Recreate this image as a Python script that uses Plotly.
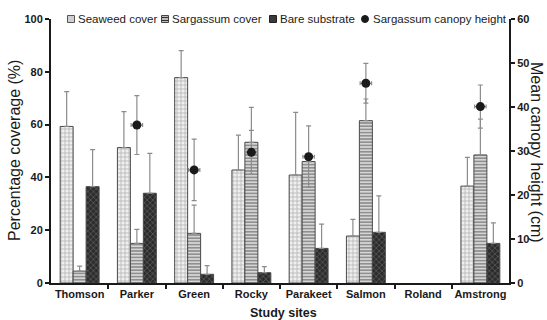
import plotly.graph_objects as go

sites = ["Thomson", "Parker", "Green", "Rocky", "Parakeet", "Salmon", "Roland", "Amstrong"]

seaweed = [59.3, 51.3, 77.8, 42.8, 40.9, 17.8, None, 36.7]
seaweed_err = [13.2, 13.6, 10.2, 13.2, 23.7, 6.3, None, 10.9]

sargassum = [4.5, 15.0, 18.8, 53.3, 46.0, 61.5, None, 48.5]
sargassum_err = [1.9, 5.3, 10.7, 13.2, 3.0, 8.2, None, 13.6]

bare = [36.5, 34.0, 3.3, 3.9, 13.1, 19.2, None, 15.0]
bare_err = [14.0, 15.1, 3.3, 2.3, 9.2, 13.8, None, 7.8]

canopy = [None, 35.9, 25.7, 29.7, 28.7, 45.4, None, 40.1]
canopy_err = [None, 6.7, 7.0, 5.0, 7.0, 4.5, None, 4.9]

legend_labels = ["Seaweed cover", "Sargassum cover", "Bare substrate",
                 "Sargassum canopy height"]

FONT = "Liberation Sans, Arial, sans-serif"
INK = "#1a1a1a"
OUTLINE = dict(color="#4a4a4a", width=1)

W, H = 547, 320
ML, MR, MT, MB = 51, 38, 19, 37
PW, PH = W - ML - MR, H - MT - MB

xpos = list(range(len(sites)))


def px(x, y):
    """Pixel position in the page -> paper coordinates."""
    return (x - ML) / PW, (H - MB - y) / PH


def upper_err(vals):
    return dict(type="data", array=vals, arrayminus=[0] * len(vals),
                symmetric=False, color="#8c8c8c", thickness=1.2, width=2.5)


SEAWEED_MARK = dict(color="#d0d0d0", line=OUTLINE,
                    pattern=dict(shape="+", fgcolor="#777777", bgcolor="#efefef",
                                 size=4, solidity=0.35))
SARG_MARK = dict(color="#bdbdbd", line=OUTLINE,
                 pattern=dict(shape="-", fgcolor="#3a3a3a", bgcolor="#d6d6d6",
                              size=3.2, solidity=0.45))
BARE_MARK = dict(color="#3c3c3c", line=OUTLINE,
                 pattern=dict(shape="x", fgcolor="#9a9a9a", bgcolor="#2c2c2c",
                              size=4, solidity=0.3))

fig = go.Figure()
fig.add_trace(go.Bar(name=legend_labels[0], x=xpos, y=seaweed,
                     error_y=upper_err(seaweed_err), marker=SEAWEED_MARK))
fig.add_trace(go.Bar(name=legend_labels[1], x=xpos, y=sargassum,
                     error_y=upper_err(sargassum_err), marker=SARG_MARK))
fig.add_trace(go.Bar(name=legend_labels[2], x=xpos, y=bare,
                     error_y=upper_err(bare_err), marker=BARE_MARK))
fig.add_trace(go.Scatter(
    name=legend_labels[3], x=xpos, y=canopy, yaxis="y2",
    mode="markers", marker=dict(color=INK, size=9),
    error_y=dict(type="data", array=canopy_err, color="#8c8c8c",
                 thickness=1.2, width=2.5),
    error_x=dict(type="constant", value=0.1, color="#8c8c8c",
                 thickness=1.2, width=2),
))

tick_font = dict(family=FONT, size=11, color=INK, weight="bold")
axis_common = dict(showline=True, linecolor=INK, linewidth=2, ticks="outside",
                   ticklen=4, tickwidth=1.5, tickcolor=INK, tickfont=tick_font,
                   showgrid=False, zeroline=False, automargin=False)

# hand-built legend row across the top of the plot
shapes = []
annotations = []
sym_x = [71, 165, 273, 365]
txt_x = [76, 170, 278, 371]
leg_y = 19
s = 3.5
for i, (cx, tx, label) in enumerate(zip(sym_x, txt_x, legend_labels)):
    x0, y0 = px(cx - s, leg_y + s)
    x1, y1 = px(cx + s, leg_y - s)
    if i == 0:
        shapes.append(dict(type="rect", xref="paper", yref="paper", x0=x0, x1=x1,
                           y0=y0, y1=y1, fillcolor="#cfcfcf",
                           line=dict(color="#555555", width=1)))
    elif i == 1:
        shapes.append(dict(type="rect", xref="paper", yref="paper", x0=x0, x1=x1,
                           y0=y0, y1=y1, fillcolor="#bcbcbc",
                           line=dict(color="#444444", width=1)))
        for dy in (-1.5, 1.5):
            lx0, ly = px(cx - s, leg_y + dy)
            lx1, _ = px(cx + s, leg_y + dy)
            shapes.append(dict(type="line", xref="paper", yref="paper",
                               x0=lx0, x1=lx1, y0=ly, y1=ly,
                               line=dict(color="#333333", width=1)))
    elif i == 2:
        shapes.append(dict(type="rect", xref="paper", yref="paper", x0=x0, x1=x1,
                           y0=y0, y1=y1, fillcolor="#3a3a3a",
                           line=dict(color="#222222", width=1)))
    else:
        shapes.append(dict(type="circle", xref="paper", yref="paper", x0=x0, x1=x1,
                           y0=y0, y1=y1, fillcolor=INK, line=dict(color=INK, width=1)))
    ax, ay = px(tx, leg_y)
    annotations.append(dict(text=label, xref="paper", yref="paper", x=ax, y=ay,
                            xanchor="left", yanchor="middle", showarrow=False,
                            font=dict(family=FONT, size=11.5, color=INK)))

lx, ly = px(14, 151)
rx, ry = px(537, 152)
sx, sy = px(283, 313)
annotations += [
    dict(text="Percentage coverage (%)", xref="paper", yref="paper",
         x=lx, y=ly, xanchor="center", yanchor="middle", textangle=-90,
         showarrow=False, font=dict(family=FONT, size=16, color=INK)),
    dict(text="Mean canopy height (cm)", xref="paper", yref="paper",
         x=rx, y=ry, xanchor="center", yanchor="middle", textangle=90,
         showarrow=False, font=dict(family=FONT, size=16, color=INK)),
    dict(text="Study sites", xref="paper", yref="paper",
         x=sx, y=sy, xanchor="center", yanchor="middle",
         showarrow=False, font=dict(family=FONT, size=12.5, color=INK,
                                    weight="bold")),
]

fig.update_layout(
    width=W, height=H,
    margin=dict(l=ML, r=MR, t=MT, b=MB),
    paper_bgcolor="white", plot_bgcolor="white",
    barmode="group", bargap=0.32, bargroupgap=0,
    font=dict(family=FONT, color=INK),
    showlegend=False,
    xaxis=dict(range=[-0.5, len(sites) - 0.5], tickmode="array", tickvals=xpos,
               ticktext=sites, tickangle=0, ticks="", showline=True,
               linecolor=INK, linewidth=2, tickfont=tick_font, showgrid=False,
               zeroline=False, automargin=False,
               minor=dict(tickmode="array",
                          tickvals=[i + 0.5 for i in xpos[:-1]],
                          ticks="outside", ticklen=4, tickwidth=1.5,
                          tickcolor=INK, showgrid=False)),
    yaxis=dict(range=[0, 100], dtick=20, **axis_common),
    yaxis2=dict(range=[0, 60], dtick=10, overlaying="y", side="right",
                **axis_common),
    shapes=shapes,
    annotations=annotations,
)

fig.write_html("out.html")
